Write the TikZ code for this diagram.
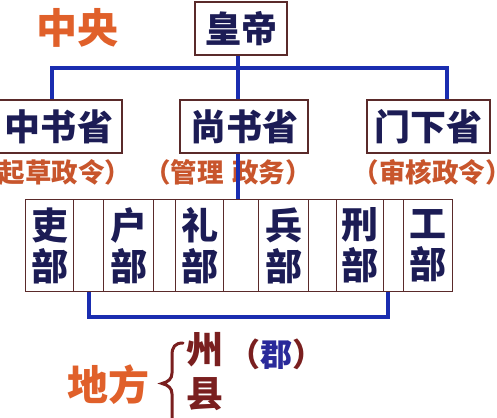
\documentclass[tikz,border=0pt]{standalone}
\usepackage{fontspec}
\newfontfamily\cjk{Noto Sans CJK SC Black}
\definecolor{navy}{HTML}{1C1C55}
\definecolor{boxc}{HTML}{5A2A2A}
\definecolor{linkc}{HTML}{1A2DB0}
\definecolor{orng}{HTML}{E0602A}
\definecolor{lbl}{HTML}{C8552C}
\definecolor{dred}{HTML}{7A1F1F}
\definecolor{jblue}{HTML}{2A2A9A}
\begin{document}
\begin{tikzpicture}[x=1pt,y=-1pt,
  box/.style={draw=boxc, line width=1.6pt, fill=white, inner sep=0pt,
    minimum height=53pt, font=\cjk\fontsize{36}{40}\selectfont, text=navy},
  cell/.style={draw=boxc, line width=1.3pt, fill=white, inner sep=0pt,
    minimum height=92pt, anchor=north west, align=center,
    font=\cjk\fontsize{37}{41}\selectfont, text=navy},
  link/.style={draw=linkc, line width=4pt},
  region/.style={font=\cjk\fontsize{41}{44}\selectfont, text=orng, inner sep=0pt},
  note/.style={font=\cjk\fontsize{26.5}{30}\selectfont, text=lbl, inner sep=0pt},
  local/.style={font=\cjk\fontsize{37}{40}\selectfont, text=dred, inner sep=0pt}]
\useasboundingbox (0,0) rectangle (497,417);
\fill[white] (0,0) rectangle (497,417);

% central label
\node[region] (zy) at (77,28) {中央};

% emperor and three departments
\node[box, minimum width=92pt] (hd) at (241,28.5) {皇帝};
\node[box, minimum width=126pt] (zs) at (59,126.5) {中书省};
\node[box, minimum width=128pt] (ss) at (244,126.5) {尚书省};
\node[box, minimum width=123pt] (mx) at (428.5,126.5) {门下省};

% notes
\node[note] (n1) at (52,172) {（起草政令）};
\node[note] (n2) at (228,172) {（管理\,\,政务）};
\node[note] (n3) at (432,172) {（审核政令）};

% six ministries
\node[cell, minimum width=48pt] (c1) at (25,199) {吏\\部};
\node[cell, minimum width=30pt] (g1) at (73,199) {};
\node[cell, minimum width=50pt] (c2) at (103,199) {户\\部};
\node[cell, minimum width=22pt] (g2) at (153,199) {};
\node[cell, minimum width=48pt] (c3) at (175,199) {礼\\部};
\node[cell, minimum width=35pt] (g3) at (223,199) {};
\node[cell, minimum width=50pt] (c4) at (258,199) {兵\\部};
\node[cell, minimum width=28pt] (g4) at (308,199) {};
\node[cell, minimum width=47pt] (c5) at (336,199) {刑\\部};
\node[cell, minimum width=20pt] (g5) at (383,199) {};
\node[cell, minimum width=49pt] (c6) at (403,199) {工\\部};

% connectors
\coordinate (jT) at (238,68);
\coordinate (jL) at (52,68);
\coordinate (jR) at (447,68);
\coordinate (bL) at (89,317);
\coordinate (bR) at (388,317);
\draw[link] (jT|-hd.south) -- (jT|-ss.north);
\draw[link, line join=miter] (jL|-zs.north) -- (jL) -- (jR) -- (jR|-mx.north);
\draw[link] (jT|-ss.south) -- (jT|-g3.north);
\draw[link, line join=miter] (bL|-g1.south) -- (bL) -- (bR) -- (bR|-g5.south);

% local level
\node[region] (df) at (108,385) {地方};
\draw[dred, line width=3pt, line cap=round]
  (183,343) .. controls (175,343) and (172,347) .. (172,355)
  -- (172,373) .. controls (172,379) and (168,382) .. (162,383.5)
  .. controls (168,385) and (172,388) .. (172,394) -- (172,420);
\node[local] (zhou) at (205,350) {州};
\node[local] (xian) at (205,394) {县};
\node[font=\cjk\fontsize{32}{36}\selectfont, inner sep=0pt] (jun) at (276,354)
  {\textcolor{dred}{（}\textcolor{jblue}{郡}\textcolor{dred}{）}};
\end{tikzpicture}
\end{document}
